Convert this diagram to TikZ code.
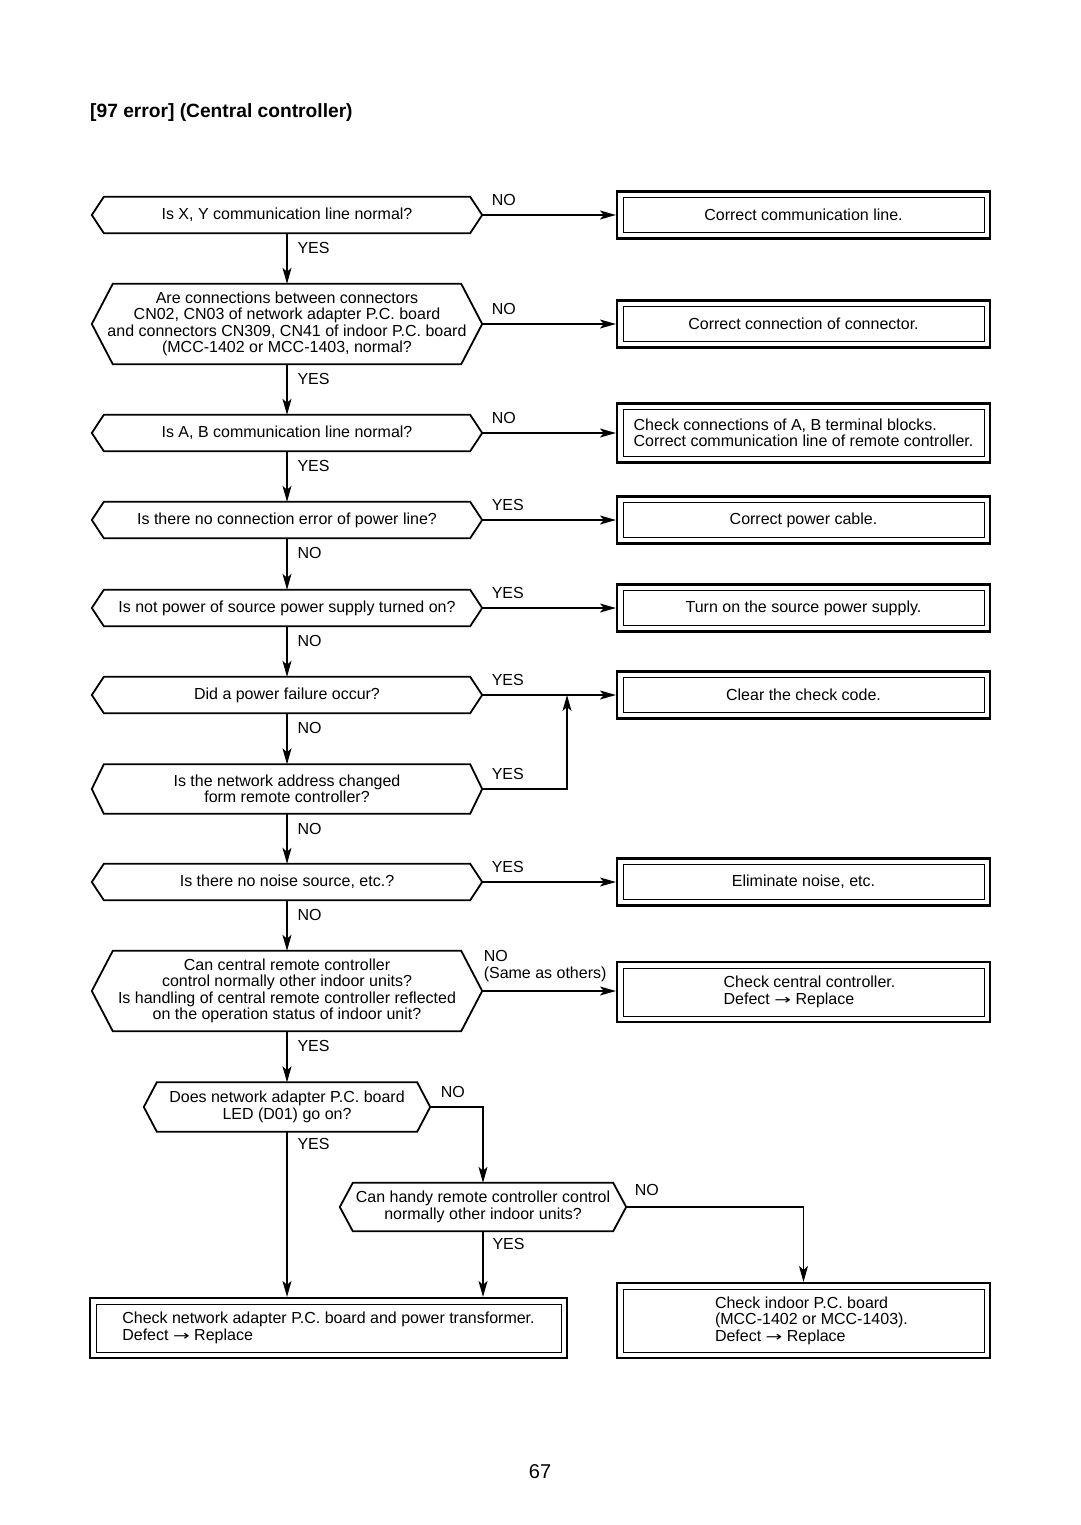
\documentclass[tikz,border=0pt]{standalone}
\usepackage{fontspec}
\setmainfont{Liberation Sans}
\newfontfamily\arrowfont{DejaVu Sans}
\usetikzlibrary{arrows.meta,calc}
\tikzset{
  txt/.style={font=\fontsize{16}{16.4}\selectfont},
  dec/.style={txt, rectangle, inner sep=0pt, align=center},
  res/.style={txt, rectangle, draw, line width=2.2pt, inner sep=0pt, align=left,
    minimum width=373pt,
    path picture={\draw[line width=0.9pt]
      ([xshift=6pt,yshift=-6pt]path picture bounding box.north west) rectangle
      ([xshift=-6pt,yshift=6pt]path picture bounding box.south east);}},
  arr/.style={line width=1.1pt, -{Stealth[length=16pt,width=9pt,inset=4pt]}},
  lbl/.style={txt, inner sep=0pt, anchor=base west},
}
\newcommand\drawhex[2]{\draw[line width=1.8pt, line join=miter]
  ([xshift=#2pt]#1.north west) -- ([xshift=-#2pt]#1.north east) -- (#1.east) --
  ([xshift=-#2pt]#1.south east) -- ([xshift=#2pt]#1.south west) -- (#1.west) -- cycle;}
\newcommand\toarr{ {\arrowfont\scalebox{1.25}[0.85]{→}} }
\begin{document}
\begin{tikzpicture}[x=1pt,y=-1pt]
\fill[white] (0,0) rectangle (1080,1525);
\useasboundingbox (0,0) rectangle (1080,1525);

\node[anchor=base west, inner sep=0pt, font=\bfseries\fontsize{19.2}{22}\selectfont] (title) at (90,117.5) {[97 error] (Central controller)};
\node[inner sep=0pt, font=\fontsize{20}{22}\selectfont] (page) at (540,1472) {67};

% decisions
\node[dec, minimum width=390pt, minimum height=36pt] (d1) at (287,215) {Is X, Y communication line normal?};
\node[dec, minimum width=390pt, minimum height=80pt] (d2) at (287,324) {Are connections between connectors\\CN02, CN03 of network adapter P.C. board\\and connectors CN309, CN41 of indoor P.C. board\\(MCC-1402 or MCC-1403, normal?};
\node[dec, minimum width=390pt, minimum height=36pt] (d3) at (287,433) {Is A, B communication line normal?};
\node[dec, minimum width=390pt, minimum height=36pt] (d4) at (287,520) {Is there no connection error of power line?};
\node[dec, minimum width=390pt, minimum height=36pt] (d5) at (287,608) {Is not power of source power supply turned on?};
\node[dec, minimum width=390pt, minimum height=36pt] (d6) at (287,695) {Did a power failure occur?};
\node[dec, minimum width=390pt, minimum height=49pt] (d7) at (287,789) {Is the network address changed\\form remote controller?};
\node[dec, minimum width=390pt, minimum height=36pt] (d8) at (287,882) {Is there no noise source, etc.?};
\node[dec, minimum width=390pt, minimum height=80pt] (d9) at (287,991) {Can central remote controller\\control normally other indoor units?\\Is handling of central remote controller reflected\\on the operation status of indoor unit?};
\node[dec, minimum width=286pt, minimum height=49pt] (d10) at (287,1107) {Does network adapter P.C. board\\LED (D01) go on?};
\node[dec, minimum width=286pt, minimum height=48pt] (d11) at (483,1207) {Can handy remote controller control\\normally other indoor units?};

\drawhex{d1}{12}
\drawhex{d2}{21}
\drawhex{d3}{12}
\drawhex{d4}{12}
\drawhex{d5}{12}
\drawhex{d6}{12}
\drawhex{d7}{12}
\drawhex{d8}{12}
\drawhex{d9}{21}
\drawhex{d10}{13}
\drawhex{d11}{13}

% result boxes
\node[res, minimum height=47pt] (b1) at (803.5,215) {Correct communication line.};
\node[res, minimum height=47pt] (b2) at (803.5,324) {Correct connection of connector.};
\node[res, minimum height=59pt] (b3) at (803.5,433) {Check connections of A, B terminal blocks.\\Correct communication line of remote controller.};
\node[res, minimum height=47pt] (b4) at (803.5,520) {Correct power cable.};
\node[res, minimum height=47pt] (b5) at (803.5,608) {Turn on the source power supply.};
\node[res, minimum height=47pt] (b6) at (803.5,695) {Clear the check code.};
\node[res, minimum height=47pt] (b8) at (803.5,882) {Eliminate noise, etc.};
\node[res, minimum height=60pt] (b9) at (803.5,992) {\hspace*{12pt}Check central controller.\\\hspace*{12pt}Defect\toarr Replace};
\node[res, minimum width=477pt, minimum height=60pt] (b10) at (328.5,1328) {Check network adapter P.C. board and power transformer.\\Defect\toarr Replace};
\node[res, minimum height=75pt] (b11) at (803.5,1320.5) {\hspace*{16pt}Check indoor P.C. board\\\hspace*{16pt}(MCC-1402 or MCC-1403).\\\hspace*{16pt}Defect\toarr Replace};

\coordinate (j1) at (567,695);

% horizontal connectors
\draw[arr] (d1.east) -- node[lbl, at start, xshift=9pt, yshift=10pt] {NO} (b1.west);
\draw[arr] (d2.east) -- node[lbl, at start, xshift=9pt, yshift=10pt] {NO} (b2.west);
\draw[arr] (d3.east) -- node[lbl, at start, xshift=9pt, yshift=10pt] {NO} (b3.west);
\draw[arr] (d4.east) -- node[lbl, at start, xshift=9pt, yshift=10pt] {YES} (b4.west);
\draw[arr] (d5.east) -- node[lbl, at start, xshift=9pt, yshift=10pt] {YES} (b5.west);
\draw[arr] (d6.east) -- node[lbl, at start, xshift=9pt, yshift=10pt] {YES} (b6.west);
\draw[arr] (d7.east) -| node[lbl, at start, xshift=9pt, yshift=10pt] {YES} (j1);
\draw[arr] (d8.east) -- node[lbl, at start, xshift=9pt, yshift=10pt] {YES} (b8.west);
\draw[arr] (d9.east) -- node[txt, inner sep=0pt, align=left, anchor=south west, at start, xshift=1pt, yshift=9pt] {NO\\(Same as others)} (d9.east -| b9.west);

% vertical connectors
\draw[arr] (d1.south) -- node[lbl, at start, xshift=10pt, yshift=-20.7pt] {YES} (d2.north);
\draw[arr] (d2.south) -- node[lbl, at start, xshift=10pt, yshift=-20.7pt] {YES} (d3.north);
\draw[arr] (d3.south) -- node[lbl, at start, xshift=10pt, yshift=-20.7pt] {YES} (d4.north);
\draw[arr] (d4.south) -- node[lbl, at start, xshift=10pt, yshift=-20.7pt] {NO} (d5.north);
\draw[arr] (d5.south) -- node[lbl, at start, xshift=10pt, yshift=-20.7pt] {NO} (d6.north);
\draw[arr] (d6.south) -- node[lbl, at start, xshift=10pt, yshift=-20.7pt] {NO} (d7.north);
\draw[arr] (d7.south) -- node[lbl, at start, xshift=10pt, yshift=-20.7pt] {NO} (d8.north);
\draw[arr] (d8.south) -- node[lbl, at start, xshift=10pt, yshift=-20.7pt] {NO} (d9.north);
\draw[arr] (d9.south) -- node[lbl, at start, xshift=10pt, yshift=-20.7pt] {YES} (d10.north);
\draw[arr] (d10.south) -- node[lbl, at start, xshift=10pt, yshift=-17.7pt] {YES} (d10.south |- b10.north);
\draw[arr] (d10.east) -| node[lbl, at start, xshift=10pt, yshift=9.3pt] {NO} (d11.north);
\draw[arr] (d11.south) -- node[lbl, at start, xshift=9pt, yshift=-18.7pt] {YES} (d11.south |- b10.north);
\draw[arr] (d11.east) -| node[lbl, at start, xshift=8pt, yshift=11.3pt] {NO} (b11.north);
\end{tikzpicture}
\end{document}
